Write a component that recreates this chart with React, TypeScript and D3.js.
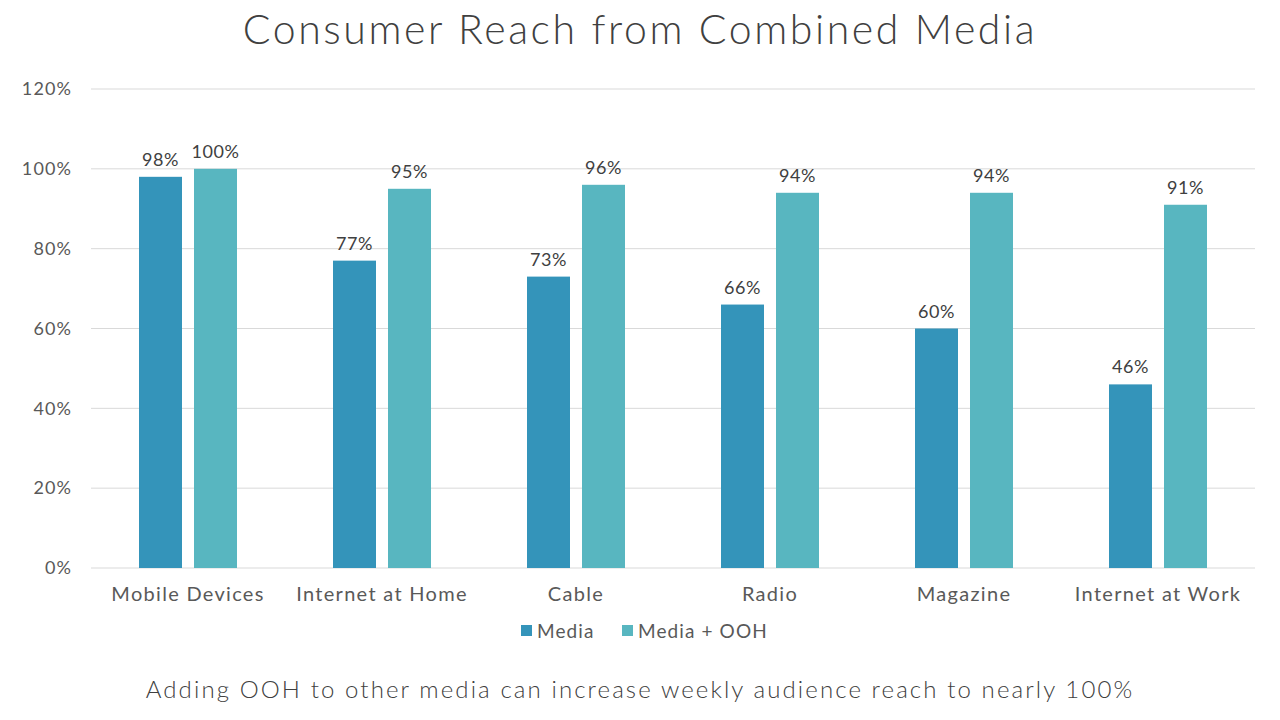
import React from "react";
import * as d3 from "d3";

const categories = ["Mobile Devices", "Internet at Home", "Cable", "Radio", "Magazine", "Internet at Work"];
const mediaValues = [98, 77, 73, 66, 60, 46];
const oohValues = [100, 95, 96, 94, 94, 91];
const seriesNames = ["Media", "Media + OOH"];
const yTicks = [0, 20, 40, 60, 80, 100, 120];
const title = "Consumer Reach from Combined Media";
const subtitle = "Adding OOH to other media can increase weekly audience reach to nearly 100%";

const colors = ["#3494BA", "#58B6C0"];

export default function App() {
  const W = 1280, H = 720;
  const left = 91, right = 1255, top = 89, bottom = 568;
  const x = d3.scaleBand<string>().domain(categories).range([left, right]).paddingInner(0).paddingOuter(0);
  const y = d3.scaleLinear().domain([0, 120]).range([bottom, top]);
  const barW = 43, gap = 12;
  const font = "Lato, 'Open Sans', sans-serif";
  const series = [mediaValues, oohValues];
  return (
    <svg width={W} height={H} style={{ position: "absolute", left: 0, top: 0, background: "#fff" }} fontFamily={font}>
      <rect width={W} height={H} fill="#fff" />
      <text x={640} y={44} textAnchor="middle" fontSize={41} fontWeight={300} letterSpacing={2.6} fill="#404040">{title}</text>
      {yTicks.map((t) => (
        <g key={t}>
          <line x1={left} x2={right} y1={y(t)} y2={y(t)} stroke="#D9D9D9" strokeWidth={1} />
          <text x={72} y={y(t)} dy="0.35em" textAnchor="end" fontSize={18} letterSpacing={1.1} fill="#595959">{t}%</text>
        </g>
      ))}
      {categories.map((c, i) => {
        const cx = x(c)! + x.bandwidth() / 2;
        return (
          <g key={c}>
            {series.map((vals, s) => {
              const bx = s === 0 ? cx - gap / 2 - barW : cx + gap / 2;
              const v = vals[i];
              return (
                <g key={s}>
                  <rect x={bx} y={y(v)} width={barW} height={y(0) - y(v)} fill={colors[s]} />
                  <text x={bx + barW / 2} y={y(v) - 11} textAnchor="middle" fontSize={18} letterSpacing={0.5} fill="#404040">{v}%</text>
                </g>
              );
            })}
            <text x={cx} y={594} dy="0.35em" textAnchor="middle" fontSize={20} letterSpacing={1.3} fill="#595959">{c}</text>
          </g>
        );
      })}
      <g>
        <rect x={521} y={625} width={11} height={11} fill={colors[0]} />
        <text x={537} y={631} dy="0.35em" fontSize={19} letterSpacing={1.1} fill="#595959">{seriesNames[0]}</text>
        <rect x={622} y={625} width={11} height={11} fill={colors[1]} />
        <text x={638} y={631} dy="0.35em" fontSize={19} letterSpacing={1.1} fill="#595959">{seriesNames[1]}</text>
      </g>
      <text x={640} y={690} dy="0.35em" textAnchor="middle" fontSize={24} fontWeight={300} letterSpacing={2.1} fill="#404040">{subtitle}</text>
    </svg>
  );
}
